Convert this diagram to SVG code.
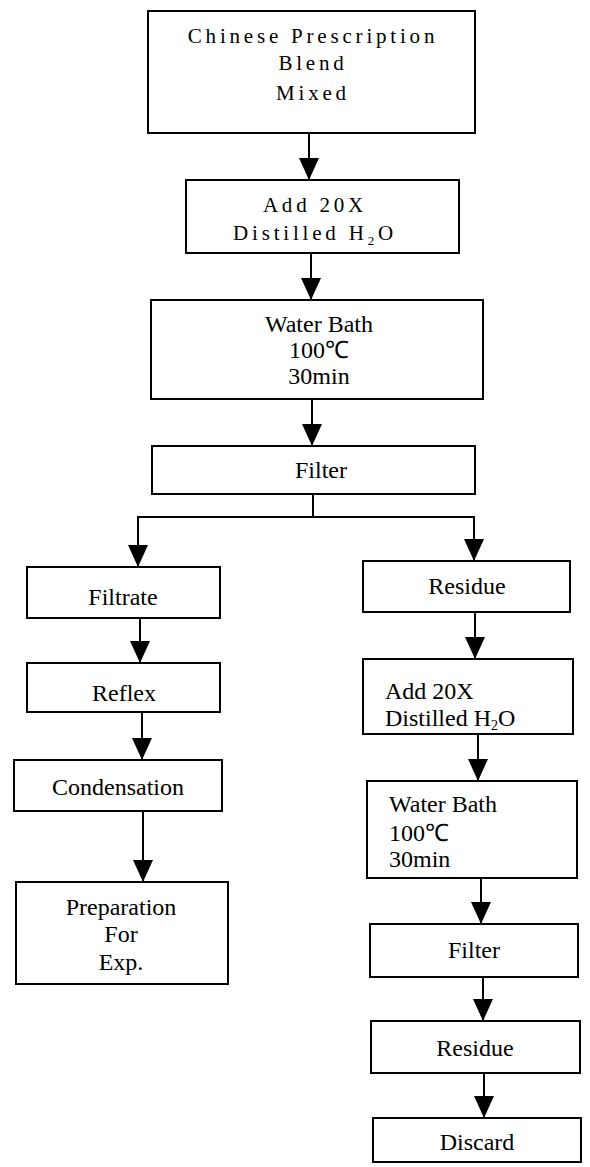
<svg xmlns="http://www.w3.org/2000/svg" width="590" height="1167" viewBox="0 0 590 1167">
<style>
.box{fill:#fff;stroke:#000;stroke-width:2}
.t{font-family:"Liberation Serif","Times New Roman",serif;font-size:24px;fill:#000}
.ts{font-family:"Liberation Serif","Times New Roman",serif;font-size:21px;letter-spacing:3.8px;fill:#000}
.c{text-anchor:middle}
.ln{fill:none;stroke:#000;stroke-width:2}
</style>
<defs>
<marker id="ah" markerUnits="userSpaceOnUse" markerWidth="22" markerHeight="20" refX="22" refY="10" orient="auto">
<path d="M0,0 L22,10 L0,20 Z" fill="#000"/>
</marker>
</defs>
<rect width="590" height="1167" fill="#fff"/>
<g id="connectors">
<path class="ln" d="M309,133 V180" marker-end="url(#ah)"/>
<path class="ln" d="M311,253 V300" marker-end="url(#ah)"/>
<path class="ln" d="M312,399 V446" marker-end="url(#ah)"/>
<path class="ln" d="M313,494 V517 H138 V567" marker-end="url(#ah)"/>
<path class="ln" d="M313,517 H474 V561" marker-end="url(#ah)"/>
<path class="ln" d="M140,618 V663" marker-end="url(#ah)"/>
<path class="ln" d="M142,712 V760" marker-end="url(#ah)"/>
<path class="ln" d="M143,811 V882" marker-end="url(#ah)"/>
<path class="ln" d="M475,612 V659" marker-end="url(#ah)"/>
<path class="ln" d="M478,734 V781" marker-end="url(#ah)"/>
<path class="ln" d="M481,878 V924" marker-end="url(#ah)"/>
<path class="ln" d="M483,977 V1021" marker-end="url(#ah)"/>
<path class="ln" d="M484,1073 V1118" marker-end="url(#ah)"/>
</g>
<g id="n1">
<rect class="box" x="148" y="11" width="327" height="122"/>
<text class="ts c" x="313" y="43">Chinese Prescription</text>
<text class="ts c" x="313" y="70">Blend</text>
<text class="ts c" x="313" y="100">Mixed</text>
</g>
<g id="n2">
<rect class="box" x="186" y="180" width="273" height="73"/>
<text class="ts c" x="315" y="212">Add 20X</text>
<text class="ts c" x="315" y="240">Distilled H<tspan font-size="13" dy="5">2</tspan><tspan dy="-5">O</tspan></text>
</g>
<g id="n3">
<rect class="box" x="151" y="300" width="332" height="99"/>
<text class="t c" x="319" y="332">Water Bath</text>
<text class="t c" x="319" y="358">100℃</text>
<text class="t c" x="319" y="384">30min</text>
</g>
<g id="n4">
<rect class="box" x="152" y="446" width="323" height="48"/>
<text class="t c" x="321" y="478">Filter</text>
</g>
<g id="n5">
<rect class="box" x="27" y="567" width="193" height="51"/>
<text class="t c" x="123" y="605">Filtrate</text>
</g>
<g id="n6">
<rect class="box" x="27" y="663" width="193" height="49"/>
<text class="t c" x="124" y="701">Reflex</text>
</g>
<g id="n7">
<rect class="box" x="14" y="760" width="208" height="51"/>
<text class="t c" x="118" y="795">Condensation</text>
</g>
<g id="n8">
<rect class="box" x="16" y="882" width="212" height="102"/>
<text class="t c" x="121" y="915">Preparation</text>
<text class="t c" x="121" y="942">For</text>
<text class="t c" x="121" y="970">Exp.</text>
</g>
<g id="n9">
<rect class="box" x="363" y="561" width="207" height="51"/>
<text class="t c" x="467" y="594">Residue</text>
</g>
<g id="n10">
<rect class="box" x="363" y="659" width="210" height="75"/>
<text class="t" x="385" y="699">Add 20X</text>
<text class="t" x="385" y="726">Distilled H<tspan font-size="14" dy="4">2</tspan><tspan dy="-4">O</tspan></text>
</g>
<g id="n11">
<rect class="box" x="367" y="781" width="210" height="97"/>
<text class="t" x="389" y="812">Water Bath</text>
<text class="t" x="389" y="841">100℃</text>
<text class="t" x="389" y="867">30min</text>
</g>
<g id="n12">
<rect class="box" x="370" y="924" width="208" height="53"/>
<text class="t c" x="474" y="958">Filter</text>
</g>
<g id="n13">
<rect class="box" x="371" y="1021" width="209" height="52"/>
<text class="t c" x="475" y="1056">Residue</text>
</g>
<g id="n14">
<rect class="box" x="373" y="1118" width="208" height="44"/>
<text class="t c" x="477" y="1150">Discard</text>
</g>
</svg>
